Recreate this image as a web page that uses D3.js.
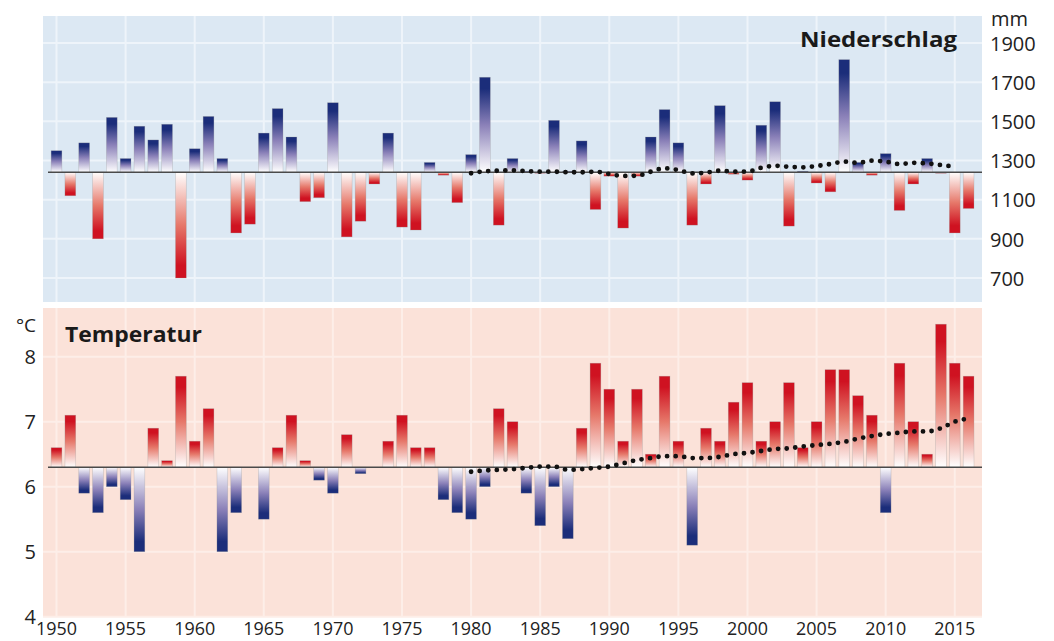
<!DOCTYPE html>
<html>
<head>
<meta charset="utf-8">
<script src="https://cdn.jsdelivr.net/npm/d3@7"></script>
<style>
    body { margin: 0; background: #fff; }
    svg { display: block; font-family: "Open Sans", sans-serif; }
</style>
</head>
<body>
<svg id="chart" width="1054" height="641"></svg>
<script>
// yearly values 1950-2016
const years = d3.range(1950, 2017);
const precip = [
    1350, 1120, 1390, 900, 1520, 1310, 1475, 1405, 1485, 700,
    1360, 1525, 1310, 930, 975, 1440, 1565, 1420, 1090, 1110,
    1595, 910, 990, 1180, 1440, 960, 945, 1290, 1225, 1085,
    1330, 1725, 970, 1310, 1245, 1235, 1505, 1245, 1400, 1050,
    1220, 955, 1220, 1420, 1560, 1390, 970, 1180, 1580, 1230,
    1200, 1480, 1600, 965, 1245, 1185, 1140, 1815, 1290, 1225,
    1335, 1045, 1180, 1310, 1235, 930, 1055
];
const temp = [
    6.6, 7.1, 5.9, 5.6, 6.0, 5.8, 5.0, 6.9, 6.4, 7.7,
    6.7, 7.2, 5.0, 5.6, 6.3, 5.5, 6.6, 7.1, 6.4, 6.1,
    5.9, 6.8, 6.2, 6.3, 6.7, 7.1, 6.6, 6.6, 5.8, 5.6,
    5.5, 6.0, 7.2, 7.0, 5.9, 5.4, 6.0, 5.2, 6.9, 7.9,
    7.5, 6.7, 7.5, 6.5, 7.7, 6.7, 5.1, 6.9, 6.7, 7.3,
    7.6, 6.7, 7.0, 7.6, 6.6, 7.0, 7.8, 7.8, 7.4, 7.1,
    5.6, 7.9, 7.0, 6.5, 8.5, 7.9, 7.7
];

// smoothed means (dotted lines)
const precipTrendYears = d3.range(1980, 2016);
const precipTrend = [
    1235, 1245, 1248, 1250, 1246, 1243, 1243, 1240, 1240, 1243,
    1231, 1221, 1222, 1243, 1260, 1251, 1234, 1238, 1248, 1243,
    1243, 1263, 1273, 1268, 1265, 1272, 1282, 1294, 1288, 1299,
    1294, 1282, 1288, 1285, 1277, 1268
];
const tempTrendYears = d3.range(1980, 2017);
const tempTrend = [
    6.23, 6.25, 6.26, 6.27, 6.29, 6.31, 6.31, 6.26, 6.27, 6.29,
    6.31, 6.36, 6.41, 6.44, 6.47, 6.47, 6.44, 6.44, 6.46, 6.50,
    6.52, 6.55, 6.58, 6.59, 6.62, 6.64, 6.66, 6.69, 6.74, 6.78,
    6.81, 6.83, 6.85, 6.85, 6.90, 7.00, 7.05
];

const precipMean = 1240;
const tempMean = 6.3;
const precipTicks = [1900, 1700, 1500, 1300, 1100, 900, 700];
const tempTicks = [8, 7, 6, 5, 4];
const yearTicks = d3.range(1950, 2016, 5);

const svg = d3.select('#chart');
const left = 43, right = 982;
const textColor = '#222';

const x = d3.scaleBand()
    .domain(years)
    .range([49.6, 975.5])
    .paddingInner(0.22)
    .paddingOuter(0.11);
const cx = d => x(d) + x.bandwidth() / 2;

const yP = d3.scaleLinear().domain([1900, 700]).range([43, 278]);
const yT = d3.scaleLinear().domain([8, 4]).range([356.7, 616.7]);

// gradients, per bar (bounding box), white at the mean line
const defs = svg.append('defs');
function addGradient(id, dark, mid, up) {
    const g = defs.append('linearGradient')
        .attr('id', id)
        .attr('x1', 0).attr('x2', 0)
        .attr('y1', up ? 1 : 0)
        .attr('y2', up ? 0 : 1);
    g.append('stop').attr('offset', 0).attr('stop-color', '#ffffff');
    g.append('stop').attr('offset', 0.5).attr('stop-color', mid);
    g.append('stop').attr('offset', 0.88).attr('stop-color', dark);
    g.append('stop').attr('offset', 1).attr('stop-color', dark);
}
addGradient('blueUp', '#1b2d7a', '#8a80b8', true);
addGradient('blueDown', '#1b2d7a', '#8a80b8', false);
addGradient('redUp', '#cf1221', '#e6786a', true);
addGradient('redDown', '#cf1221', '#e6786a', false);

defs.append('clipPath').attr('id', 'labelClip')
    .append('rect').attr('x', 0).attr('y', 0).attr('width', 1039).attr('height', 641);

function drawPanel(opts) {
    const { y, top, bottom, bg, grid, ticks, values, mean, upFill, downFill, trendYears, trend } = opts;
    const g = svg.append('g');

    g.append('rect')
        .attr('x', left).attr('y', top)
        .attr('width', right - left).attr('height', bottom - top)
        .attr('fill', bg);

    g.selectAll('.hgrid')
        .data(ticks)
        .enter()
        .append('line')
        .attr('class', 'hgrid')
        .attr('x1', left).attr('x2', right)
        .attr('y1', d => y(d)).attr('y2', d => y(d))
        .attr('stroke', grid)
        .attr('stroke-width', 2);

    g.selectAll('.vgrid')
        .data(yearTicks)
        .enter()
        .append('line')
        .attr('class', 'vgrid')
        .attr('x1', d => cx(d)).attr('x2', d => cx(d))
        .attr('y1', top).attr('y2', bottom)
        .attr('stroke', grid)
        .attr('stroke-width', 2);

    const data = years.map((yr, i) => ({ yr, v: values[i] }));
    g.selectAll('.bar')
        .data(data)
        .enter()
        .append('rect')
        .attr('class', 'bar')
        .attr('x', d => x(d.yr))
        .attr('width', x.bandwidth())
        .attr('y', d => Math.min(y(d.v), y(mean)))
        .attr('height', d => Math.abs(y(d.v) - y(mean)))
        .attr('fill', d => d.v >= mean ? `url(#${upFill})` : `url(#${downFill})`)
        .attr('stroke', '#9a9a9a')
        .attr('stroke-opacity', 0.45)
        .attr('stroke-width', 0.6);

    g.append('line')
        .attr('x1', 48).attr('x2', right)
        .attr('y1', y(mean)).attr('y2', y(mean))
        .attr('stroke', '#4a4a4a')
        .attr('stroke-width', 1.5);

    const line = d3.line()
        .x(d => cx(d[0]))
        .y(d => y(d[1]))
        .curve(d3.curveMonotoneX);

    g.append('path')
        .datum(trendYears.map((yr, i) => [yr, trend[i]]))
        .attr('d', line)
        .attr('fill', 'none')
        .attr('stroke', '#111')
        .attr('stroke-width', 4.8)
        .attr('stroke-linecap', 'round')
        .attr('stroke-dasharray', '0 8.6');
}

drawPanel({
    y: yP, top: 16, bottom: 302, bg: '#dce8f3', grid: '#eef4fa',
    ticks: precipTicks, values: precip, mean: precipMean,
    upFill: 'blueUp', downFill: 'redDown',
    trendYears: precipTrendYears, trend: precipTrend
});

drawPanel({
    y: yT, top: 308, bottom: 617, bg: '#fbe2d9', grid: '#fdeee8',
    ticks: tempTicks, values: temp, mean: tempMean,
    upFill: 'redUp', downFill: 'blueDown',
    trendYears: tempTrendYears, trend: tempTrend
});

// axes
const rightAxis = svg.append('g')
    .attr('transform', 'translate(990,0)')
    .attr('clip-path', 'url(#labelClip)')
    .call(d3.axisRight(yP).tickValues(precipTicks).tickSize(0).tickPadding(0).tickFormat(d3.format('d')));
rightAxis.select('.domain').remove();
rightAxis.selectAll('text')
    .attr('font-size', 20)
    .attr('font-family', '"Open Sans", sans-serif')
    .attr('fill', textColor)
    .attr('dy', '0.36em');

const leftAxis = svg.append('g')
    .attr('transform', 'translate(36,0)')
    .call(d3.axisLeft(yT).tickValues(tempTicks).tickSize(0).tickPadding(0).tickFormat(d3.format('d')));
leftAxis.select('.domain').remove();
leftAxis.selectAll('text')
    .attr('font-size', 20)
    .attr('font-family', '"Open Sans", sans-serif')
    .attr('fill', textColor)
    .attr('dy', '0.36em');

const bottomAxis = svg.append('g')
    .attr('transform', 'translate(0,620)')
    .call(d3.axisBottom(x).tickValues(yearTicks).tickSize(0).tickPadding(0));
bottomAxis.select('.domain').remove();
bottomAxis.selectAll('text')
    .attr('font-size', 19)
    .attr('font-family', '"Open Sans", sans-serif')
    .attr('fill', textColor)
    .attr('dy', '0.8em')
    .attr('textLength', 41)
    .attr('lengthAdjust', 'spacingAndGlyphs');

// units and titles
svg.append('text')
    .attr('x', 991).attr('y', 26)
    .attr('font-size', 20)
    .attr('fill', textColor)
    .text('mm');

svg.append('text')
    .attr('x', 36).attr('y', 332)
    .attr('text-anchor', 'end')
    .attr('font-size', 19)
    .attr('fill', textColor)
    .text('°C');

svg.append('text')
    .attr('x', 800).attr('y', 47)
    .attr('font-size', 21)
    .attr('font-weight', 'bold')
    .attr('fill', '#1a1a1a')
    .attr('textLength', 157)
    .attr('lengthAdjust', 'spacingAndGlyphs')
    .text('Niederschlag');

svg.append('text')
    .attr('x', 65).attr('y', 342)
    .attr('font-size', 21)
    .attr('font-weight', 'bold')
    .attr('fill', '#1a1a1a')
    .attr('textLength', 137)
    .attr('lengthAdjust', 'spacingAndGlyphs')
    .text('Temperatur');
</script>
</body>
</html>
